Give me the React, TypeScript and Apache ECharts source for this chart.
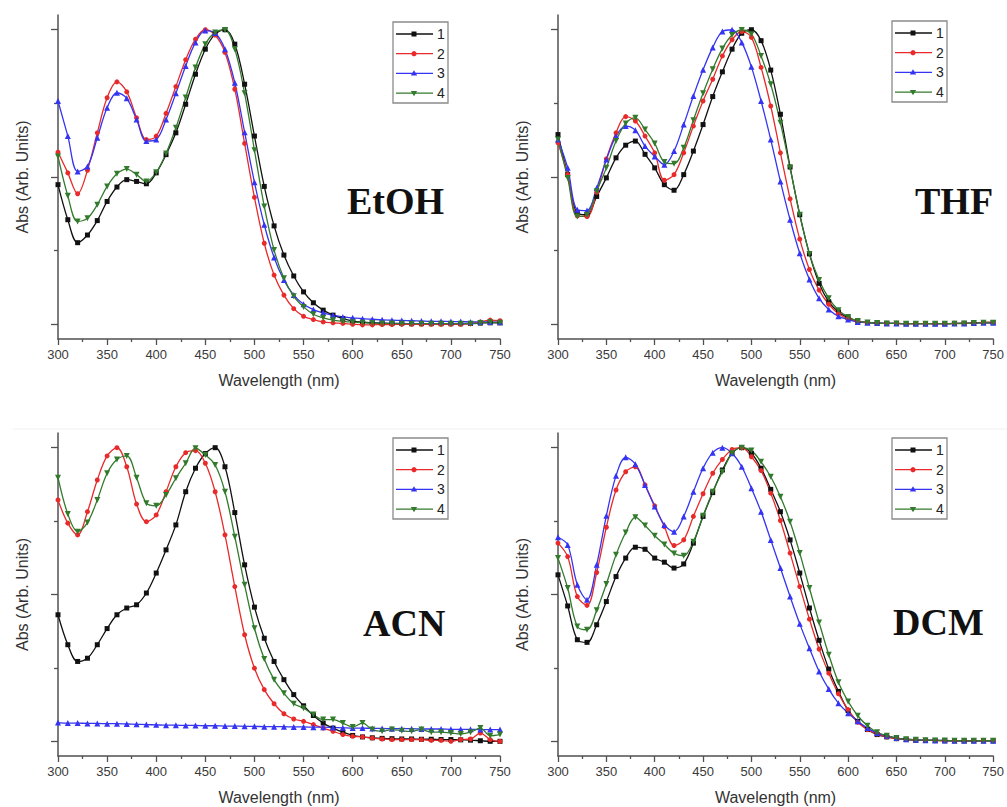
import React, { useEffect, useRef } from 'react';
import * as echarts from 'echarts';

const WAVELENGTHS = [300, 310, 320, 330, 340, 350, 360, 370, 380, 390, 400, 410, 420, 430, 440, 450, 460, 470, 480, 490, 500, 510, 520, 530, 540, 550, 560, 570, 580, 590, 600, 610, 620, 630, 640, 650, 660, 670, 680, 690, 700, 710, 720, 730, 740, 750];
const SERIES_NAMES = ['1', '2', '3', '4'];
const PANEL_LABELS = ['EtOH', 'THF', 'ACN', 'DCM'];
const Y_MAJOR_TICKS = [0, 0.5, 1];
const Y_MINOR_TICKS = [0.25, 0.75];

// EtOH
const ETOH_1 = [0.474, 0.355, 0.277, 0.303, 0.352, 0.417, 0.466, 0.491, 0.485, 0.477, 0.514, 0.576, 0.65, 0.747, 0.849, 0.934, 0.985, 1.0, 0.951, 0.815, 0.639, 0.468, 0.334, 0.235, 0.164, 0.110, 0.073, 0.048, 0.031, 0.019, 0.011, 0.007, 0.005, 0.004, 0.003, 0.003, 0.002, 0.002, 0.002, 0.002, 0.002, 0.002, 0.003, 0.004, 0.005, 0.005];
const ETOH_2 = [0.584, 0.514, 0.443, 0.523, 0.65, 0.769, 0.823, 0.789, 0.701, 0.627, 0.639, 0.716, 0.807, 0.898, 0.968, 1.0, 0.982, 0.923, 0.798, 0.614, 0.431, 0.275, 0.167, 0.099, 0.053, 0.027, 0.016, 0.008, 0.005, 0.003, 0.0, -0.002, -0.002, -0.001, -0.001, 0.0, 0.0, 0.0, 0.0, 0.0, 0.0, 0.0, 0.002, 0.008, 0.014, 0.012];
const ETOH_3 = [0.758, 0.639, 0.519, 0.536, 0.633, 0.735, 0.786, 0.767, 0.695, 0.622, 0.627, 0.695, 0.784, 0.877, 0.957, 0.997, 0.989, 0.934, 0.82, 0.652, 0.482, 0.338, 0.227, 0.15, 0.099, 0.068, 0.05, 0.039, 0.031, 0.025, 0.022, 0.019, 0.017, 0.015, 0.014, 0.013, 0.012, 0.011, 0.01, 0.01, 0.009, 0.009, 0.008, 0.008, 0.008, 0.007];
const ETOH_4 = [0.57, 0.436, 0.349, 0.36, 0.406, 0.468, 0.511, 0.527, 0.508, 0.485, 0.516, 0.58, 0.667, 0.77, 0.872, 0.951, 0.991, 0.999, 0.934, 0.784, 0.591, 0.4, 0.252, 0.156, 0.095, 0.059, 0.034, 0.022, 0.014, 0.01, 0.007, 0.005, 0.004, 0.003, 0.003, 0.002, 0.002, 0.002, 0.002, 0.002, 0.002, 0.002, 0.002, 0.004, 0.007, 0.005];

// THF
const THF_1 = [0.644, 0.508, 0.377, 0.372, 0.434, 0.497, 0.565, 0.608, 0.622, 0.577, 0.531, 0.474, 0.455, 0.508, 0.588, 0.678, 0.773, 0.857, 0.934, 0.988, 1.0, 0.963, 0.863, 0.713, 0.534, 0.372, 0.239, 0.139, 0.076, 0.042, 0.022, 0.01, 0.006, 0.004, 0.003, 0.003, 0.002, 0.002, 0.002, 0.002, 0.002, 0.003, 0.003, 0.004, 0.006, 0.006];
const THF_2 = [0.616, 0.508, 0.368, 0.366, 0.448, 0.561, 0.65, 0.705, 0.69, 0.639, 0.582, 0.489, 0.508, 0.582, 0.673, 0.758, 0.832, 0.911, 0.966, 0.994, 0.974, 0.872, 0.741, 0.582, 0.426, 0.289, 0.186, 0.116, 0.068, 0.036, 0.019, 0.01, 0.006, 0.004, 0.003, 0.003, 0.002, 0.002, 0.002, 0.002, 0.002, 0.003, 0.003, 0.005, 0.006, 0.006];
const THF_3 = [0.627, 0.531, 0.389, 0.386, 0.463, 0.559, 0.639, 0.673, 0.659, 0.605, 0.57, 0.542, 0.588, 0.678, 0.775, 0.864, 0.94, 0.994, 1.0, 0.957, 0.874, 0.758, 0.627, 0.485, 0.355, 0.241, 0.152, 0.088, 0.05, 0.027, 0.016, 0.008, 0.005, 0.004, 0.003, 0.003, 0.002, 0.002, 0.002, 0.002, 0.002, 0.003, 0.003, 0.004, 0.005, 0.005];
const THF_4 = [0.627, 0.497, 0.366, 0.372, 0.452, 0.531, 0.622, 0.682, 0.701, 0.661, 0.614, 0.551, 0.545, 0.599, 0.693, 0.784, 0.866, 0.936, 0.982, 0.999, 0.985, 0.911, 0.815, 0.684, 0.531, 0.372, 0.239, 0.15, 0.088, 0.048, 0.025, 0.011, 0.006, 0.004, 0.003, 0.003, 0.002, 0.002, 0.002, 0.002, 0.002, 0.002, 0.003, 0.004, 0.005, 0.005];

// ACN
const ACN_1 = [0.431, 0.329, 0.272, 0.283, 0.329, 0.384, 0.431, 0.454, 0.465, 0.505, 0.573, 0.652, 0.737, 0.85, 0.93, 0.98, 1.0, 0.935, 0.779, 0.601, 0.457, 0.351, 0.272, 0.21, 0.159, 0.121, 0.088, 0.062, 0.045, 0.031, 0.02, 0.015, 0.012, 0.01, 0.009, 0.008, 0.008, 0.007, 0.007, 0.006, 0.006, 0.005, 0.004, 0.002, 0.0, 0.0];
const ACN_2 = [0.822, 0.743, 0.703, 0.782, 0.89, 0.972, 1.0, 0.935, 0.808, 0.748, 0.771, 0.85, 0.935, 0.983, 0.99, 0.947, 0.85, 0.703, 0.527, 0.363, 0.249, 0.176, 0.128, 0.094, 0.076, 0.068, 0.057, 0.045, 0.034, 0.023, 0.017, 0.015, 0.011, 0.008, 0.006, 0.006, 0.006, 0.006, 0.003, 0.003, 0.0, 0.006, 0.008, 0.028, 0.006, 0.0];
const ACN_3 = [0.064, 0.062, 0.062, 0.061, 0.061, 0.06, 0.06, 0.059, 0.058, 0.057, 0.056, 0.055, 0.055, 0.054, 0.054, 0.053, 0.053, 0.052, 0.052, 0.051, 0.051, 0.05, 0.05, 0.05, 0.049, 0.049, 0.048, 0.048, 0.047, 0.046, 0.045, 0.045, 0.044, 0.044, 0.043, 0.043, 0.043, 0.042, 0.042, 0.042, 0.041, 0.041, 0.041, 0.04, 0.04, 0.04];
const ACN_4 = [0.898, 0.774, 0.714, 0.745, 0.822, 0.913, 0.96, 0.972, 0.898, 0.811, 0.802, 0.839, 0.896, 0.947, 0.998, 0.975, 0.941, 0.85, 0.697, 0.533, 0.385, 0.28, 0.21, 0.164, 0.128, 0.113, 0.091, 0.074, 0.074, 0.062, 0.049, 0.062, 0.04, 0.034, 0.04, 0.036, 0.034, 0.04, 0.031, 0.031, 0.028, 0.025, 0.031, 0.045, 0.019, 0.023];

// DCM
const DCM_1 = [0.567, 0.461, 0.346, 0.337, 0.397, 0.476, 0.561, 0.624, 0.661, 0.654, 0.624, 0.61, 0.59, 0.604, 0.675, 0.766, 0.847, 0.924, 0.981, 1.0, 0.981, 0.93, 0.858, 0.782, 0.686, 0.573, 0.454, 0.344, 0.246, 0.17, 0.105, 0.068, 0.04, 0.023, 0.015, 0.009, 0.006, 0.004, 0.003, 0.003, 0.002, 0.002, 0.002, 0.002, 0.002, 0.002];
const DCM_2 = [0.675, 0.629, 0.493, 0.463, 0.575, 0.729, 0.856, 0.918, 0.935, 0.873, 0.802, 0.731, 0.667, 0.686, 0.766, 0.843, 0.913, 0.96, 0.994, 1.0, 0.969, 0.922, 0.845, 0.752, 0.641, 0.527, 0.416, 0.314, 0.232, 0.162, 0.108, 0.065, 0.04, 0.025, 0.015, 0.009, 0.006, 0.004, 0.003, 0.003, 0.002, 0.002, 0.002, 0.002, 0.002, 0.002];
const DCM_3 = [0.695, 0.669, 0.533, 0.482, 0.601, 0.768, 0.904, 0.967, 0.944, 0.873, 0.8, 0.737, 0.714, 0.766, 0.85, 0.93, 0.983, 1.0, 0.981, 0.935, 0.862, 0.782, 0.686, 0.59, 0.493, 0.4, 0.317, 0.238, 0.178, 0.13, 0.096, 0.068, 0.045, 0.028, 0.019, 0.011, 0.007, 0.005, 0.004, 0.003, 0.003, 0.002, 0.002, 0.002, 0.002, 0.002];
const DCM_4 = [0.624, 0.522, 0.391, 0.38, 0.446, 0.536, 0.635, 0.711, 0.763, 0.735, 0.7, 0.67, 0.64, 0.632, 0.68, 0.768, 0.85, 0.918, 0.981, 1.0, 0.99, 0.952, 0.901, 0.833, 0.748, 0.641, 0.522, 0.405, 0.295, 0.201, 0.136, 0.087, 0.053, 0.031, 0.019, 0.011, 0.007, 0.005, 0.004, 0.003, 0.003, 0.002, 0.002, 0.002, 0.002, 0.002];

const PANEL_DATA = [
  [ETOH_1, ETOH_2, ETOH_3, ETOH_4],
  [THF_1, THF_2, THF_3, THF_4],
  [ACN_1, ACN_2, ACN_3, ACN_4],
  [DCM_1, DCM_2, DCM_3, DCM_4],
];

// ---- styling / layout ----
const COLORS = ['#111111', '#e82a2a', '#3434f2', '#327a2c'];
const SYMBOLS = ['rect', 'circle', 'triangle', 'triangle'];
const SYMBOL_ROTATE = [0, 0, 0, 180];
const SYMBOL_SIZE = [5, 5, 6, 6];
const GRIDS = [
  { left: 58, top: 15, width: 442, height: 324 },
  { left: 558, top: 15, width: 441, height: 324 },
  { left: 58, top: 433, width: 442, height: 323 },
  { left: 558, top: 433, width: 441, height: 323 },
];
const LEGEND_POS = [[393, 22], [892, 21], [393, 438], [892, 438]];
const LABEL_POS = [[347, 201], [915, 201], [363, 623], [893, 622]];
const SANS = '"Liberation Sans", Arial, sans-serif';
const AXIS_COLOR = '#505050';

function legendElements(bx: number, by: number) {
  const els: any[] = [];
  els.push({
    type: 'rect', z: 100,
    shape: { x: bx, y: by, width: 55, height: 81 },
    style: { fill: '#ffffff', stroke: '#8a8a8a', lineWidth: 1.3 },
  });
  for (let i = 0; i < 4; i++) {
    const cy = by + 12 + i * 19.7;
    const cx = bx + 21;
    els.push({
      type: 'line', z: 101,
      shape: { x1: bx + 3, y1: cy, x2: bx + 40, y2: cy },
      style: { stroke: COLORS[i], lineWidth: 1.3 },
    });
    if (i === 0) {
      els.push({ type: 'rect', z: 102, shape: { x: cx - 2.5, y: cy - 2.5, width: 5, height: 5 }, style: { fill: COLORS[i] } });
    } else if (i === 1) {
      els.push({ type: 'circle', z: 102, shape: { cx, cy, r: 2.6 }, style: { fill: COLORS[i] } });
    } else if (i === 2) {
      els.push({ type: 'polygon', z: 102, shape: { points: [[cx, cy - 3.2], [cx + 3.2, cy + 2.2], [cx - 3.2, cy + 2.2]] }, style: { fill: COLORS[i] } });
    } else {
      els.push({ type: 'polygon', z: 102, shape: { points: [[cx, cy + 3.2], [cx + 3.2, cy - 2.2], [cx - 3.2, cy - 2.2]] }, style: { fill: COLORS[i] } });
    }
    els.push({
      type: 'text', z: 102, x: bx + 44, y: cy,
      style: {
        text: SERIES_NAMES[i], fill: '#222', fontSize: 14, fontFamily: SANS,
        align: 'left', verticalAlign: 'middle', textAlign: 'left', textVerticalAlign: 'middle',
      },
    });
  }
  return els;
}

function buildOption() {
  const grid = GRIDS.map((g) => ({ ...g, containLabel: false }));
  const xAxis = GRIDS.map((_, i) => ({
    type: 'value', gridIndex: i, min: 300, max: 750, interval: 50,
    axisLine: { show: true, onZero: false, lineStyle: { color: AXIS_COLOR, width: 1.5 } },
    axisTick: { show: true, length: 6, lineStyle: { color: AXIS_COLOR, width: 1.3 } },
    minorTick: { show: true, splitNumber: 2, length: 3, lineStyle: { color: AXIS_COLOR, width: 1.3 } },
    splitLine: { show: false },
    minorSplitLine: { show: false },
    axisLabel: { fontSize: 13, color: '#3a3a3a', margin: 9, fontFamily: SANS, showMinLabel: true, showMaxLabel: true },
    name: 'Wavelength (nm)', nameLocation: 'middle', nameGap: 33,
    nameTextStyle: { fontSize: 16, color: '#333', fontFamily: SANS },
  }));
  const yAxis: any[] = [];
  GRIDS.forEach((_, i) => {
    yAxis.push({
      type: 'value', gridIndex: i, min: -0.05, max: 1.05, position: 'left',
      axisLine: { show: true, onZero: false, lineStyle: { color: AXIS_COLOR, width: 1.5 } },
      axisTick: { show: true, length: 7, customValues: Y_MAJOR_TICKS, lineStyle: { color: AXIS_COLOR, width: 1.3 } },
      axisLabel: { show: false },
      splitLine: { show: false },
      name: 'Abs (Arb. Units)', nameLocation: 'middle', nameGap: 28,
      nameTextStyle: { fontSize: 16, color: '#333', fontFamily: SANS },
    });
    yAxis.push({
      type: 'value', gridIndex: i, min: -0.05, max: 1.05, position: 'left', offset: 0,
      axisLine: { show: false },
      axisTick: { show: true, length: 4, customValues: Y_MINOR_TICKS, lineStyle: { color: AXIS_COLOR, width: 1.3 } },
      axisLabel: { show: false },
      splitLine: { show: false },
    });
  });
  const series: any[] = [];
  PANEL_DATA.forEach((panel, p) => {
    panel.forEach((vals, k) => {
      series.push({
        type: 'line', name: SERIES_NAMES[k], xAxisIndex: p, yAxisIndex: p * 2,
        data: WAVELENGTHS.map((w, j) => [w, vals[j]]),
        smooth: 0.35,
        symbol: SYMBOLS[k], symbolSize: SYMBOL_SIZE[k], symbolRotate: SYMBOL_ROTATE[k],
        showAllSymbol: true,
        lineStyle: { width: 1.3, color: COLORS[k] },
        itemStyle: { color: COLORS[k] },
        emphasis: { disabled: true },
      });
    });
  });
  const graphic: any[] = [];
  graphic.push({ type: 'line', z: 1, shape: { x1: 13, y1: 429, x2: 1007, y2: 429 }, style: { stroke: '#f0f0f0', lineWidth: 1 } });
  LEGEND_POS.forEach(([x, y]) => graphic.push(...legendElements(x, y)));
  PANEL_LABELS.forEach((label, i) => {
    graphic.push({
      type: 'text', z: 100, x: LABEL_POS[i][0], y: LABEL_POS[i][1],
      style: {
        text: label, fill: '#111', fontSize: 38, fontWeight: 'bold',
        fontFamily: '"Liberation Serif", "DejaVu Serif", serif',
        align: 'left', verticalAlign: 'middle', textAlign: 'left', textVerticalAlign: 'middle',
      },
    });
  });
  return {
    animation: false,
    backgroundColor: '#ffffff',
    grid, xAxis, yAxis, series, graphic,
  };
}

export default function App() {
  const ref = useRef<HTMLDivElement>(null);
  useEffect(() => {
    if (!ref.current) return;
    const chart = echarts.init(ref.current, undefined, { renderer: 'svg' });
    chart.setOption(buildOption() as any);
    return () => chart.dispose();
  }, []);
  return (
    <div
      ref={ref}
      style={{ position: 'fixed', left: 0, top: 0, width: 1007, height: 807, background: '#fff' }}
    />
  );
}
